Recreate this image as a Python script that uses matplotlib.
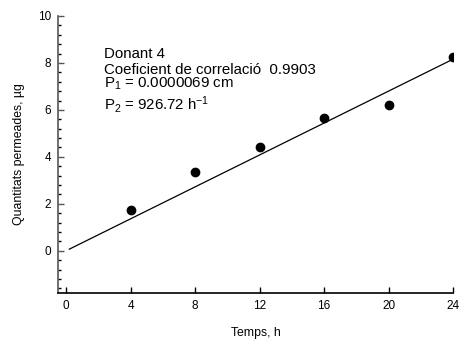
import matplotlib
matplotlib.use('Agg')
import matplotlib.pyplot as plt
from matplotlib.ticker import MultipleLocator

plt.rcParams['font.family'] = ['Liberation Sans', 'DejaVu Sans']
plt.rcParams['mathtext.fontset'] = 'custom'
plt.rcParams['mathtext.rm'] = 'Liberation Sans'
plt.rcParams['mathtext.it'] = 'Liberation Sans'
plt.rcParams['mathtext.default'] = 'regular'

# dades llegides del grafic
temps = [4, 8, 12, 16, 20, 24]
quantitats = [1.74, 3.37, 4.44, 5.65, 6.2, 8.25]
ajust_x = [0.2, 24]
ajust_y = [0.07, 8.16]
xticks = [0, 4, 8, 12, 16, 20, 24]
yticks = [0, 2, 4, 6, 8, 10]

fig = plt.figure(figsize=(4.59, 3.40), dpi=100)
ax = fig.add_axes([0.1264, 0.138, 0.8606, 0.815])

ax.plot(ajust_x, ajust_y, 'k-', lw=0.9)
ax.plot(temps, quantitats, 'ko', ms=6)

ax.set_xlim(-0.5, 24)
ax.set_ylim(-1.8, 10)
ax.set_xticks(xticks)
ax.set_yticks(yticks)
ax.yaxis.set_minor_locator(MultipleLocator(0.4))

ax.spines['top'].set_visible(False)
ax.spines['right'].set_visible(False)
ax.spines['left'].set_color('#555555')
ax.spines['left'].set_linewidth(1.2)
ax.spines['bottom'].set_linewidth(1.2)

ax.tick_params(which='major', direction='in', length=4, width=1, labelsize=8.5, pad=5)
ax.tick_params(which='minor', direction='in', length=2.5, width=1)
ax.tick_params(axis='y', colors='#555555', labelcolor='black')

ax.set_xlabel('Temps, h', fontsize=8.8, labelpad=11)
ax.set_ylabel('Quantitats permeades, µg', fontsize=8.8, labelpad=9)

ax.text(2.36, 8.22, 'Donant 4', fontsize=10.8, va='baseline')
ax.text(2.36, 7.53, 'Coeficient de correlació  0.9903', fontsize=10.8, va='baseline')
ax.text(2.36, 6.95, r'P$_1$ = 0.0000069 cm', fontsize=10.8, va='baseline')
ax.text(2.36, 6.0, r'P$_2$ = 926.72 h$^{-1}$', fontsize=10.8, va='baseline')

fig.savefig('out.png', dpi=100)
